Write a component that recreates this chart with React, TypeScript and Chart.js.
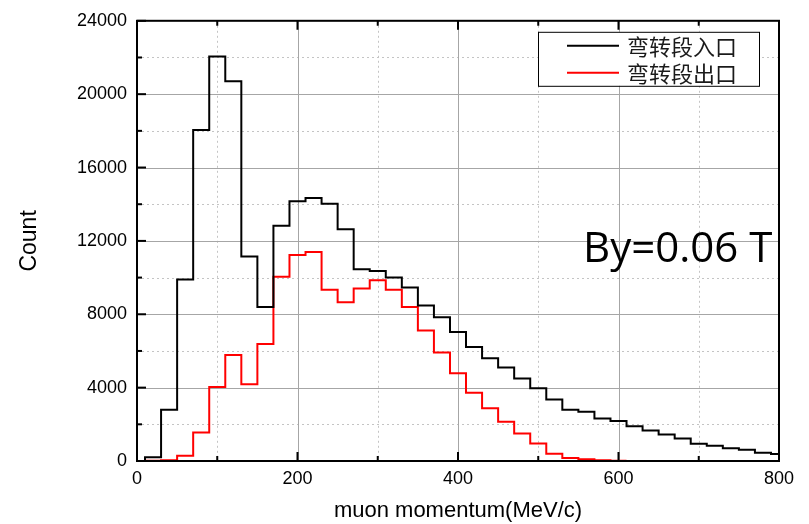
import { useEffect, useRef } from "react";
import { Chart, registerables } from "chart.js";

Chart.register(...registerables);

// Momentum bin edges (MeV/c); bin i spans binEdges[i]..binEdges[i+1]
const binEdges = [
  10, 30, 50, 70, 90, 110, 130, 150, 170, 190,
  210, 230, 250, 270, 290, 310, 330, 350, 370, 390,
  410, 430, 450, 470, 490, 510, 530, 550, 570, 590,
  610, 630, 650, 670, 690, 710, 730, 750, 770, 790, 810,
];

// Counts at the bend-section entrance
const entranceCounts = [
  200, 2800, 9900, 18050, 22050, 20700, 11150, 8400, 12830, 14160,
  14340, 14020, 12630, 10450, 10360, 10000, 9460, 8480, 7840, 7030,
  6220, 5600, 5100, 4500, 3960, 3350, 2790, 2680, 2320, 2180,
  1890, 1660, 1440, 1230, 940, 830, 690, 610, 450, 380,
];

// Counts at the bend-section exit
const exitCounts = [
  10, 40, 280, 1550, 4030, 5780, 4180, 6380, 10050, 11230,
  11400, 9340, 8650, 9400, 9850, 9340, 8390, 7110, 5920, 4780,
  3720, 2880, 2140, 1500, 960, 390, 160, 90, 40, 20,
];

const seriesLabels = ["弯转段入口", "弯转段出口"];
const seriesColors = ["#000000", "#ff0000"];
const fieldNote = "By=0.06 T";
const xTitle = "muon momentum(MeV/c)";
const yTitle = "Count";

const SANS = "'Liberation Sans', Arial, sans-serif";

// Histogram outline: each bin value is held from its lower edge to its upper edge
function stepPoints(counts: number[]) {
  const pts = [{ x: binEdges[0], y: 0 }];
  counts.forEach((c, i) => pts.push({ x: binEdges[i], y: c }));
  pts.push({ x: binEdges[counts.length], y: counts[counts.length - 1] });
  return pts;
}

// Grid (solid major, dotted minor), inward ticks, frame, legend and field note
const decorations = {
  id: "decorations",
  beforeDatasetsDraw(chart: any) {
    const { ctx, chartArea: a, scales } = chart;
    const xs = scales.x;
    const ys = scales.y;
    const xv: number[] = xs.ticks.map((t: any) => t.value);
    const yv: number[] = ys.ticks.map((t: any) => t.value);
    ctx.save();
    // minor dotted grid
    ctx.strokeStyle = "#c4c4c4";
    ctx.lineWidth = 1;
    ctx.setLineDash([2, 3]);
    for (let i = 0; i + 1 < xv.length; i++) {
      const px = Math.round(xs.getPixelForValue((xv[i] + xv[i + 1]) / 2)) + 0.5;
      ctx.beginPath();
      ctx.moveTo(px, a.top);
      ctx.lineTo(px, a.bottom);
      ctx.stroke();
    }
    for (let i = 0; i + 1 < yv.length; i++) {
      const py = Math.round(ys.getPixelForValue((yv[i] + yv[i + 1]) / 2)) + 0.5;
      ctx.beginPath();
      ctx.moveTo(a.left, py);
      ctx.lineTo(a.right, py);
      ctx.stroke();
    }
    // major solid grid
    ctx.setLineDash([]);
    ctx.strokeStyle = "#a6a6a6";
    xv.slice(1, -1).forEach((v) => {
      const px = Math.round(xs.getPixelForValue(v)) + 0.5;
      ctx.beginPath();
      ctx.moveTo(px, a.top);
      ctx.lineTo(px, a.bottom);
      ctx.stroke();
    });
    yv.slice(1, -1).forEach((v) => {
      const py = Math.round(ys.getPixelForValue(v)) + 0.5;
      ctx.beginPath();
      ctx.moveTo(a.left, py);
      ctx.lineTo(a.right, py);
      ctx.stroke();
    });
    ctx.restore();
  },
  afterDatasetsDraw(chart: any) {
    const { ctx, chartArea: a, scales } = chart;
    const xs = scales.x;
    const ys = scales.y;
    const xv: number[] = xs.ticks.map((t: any) => t.value);
    const yv: number[] = ys.ticks.map((t: any) => t.value);
    ctx.save();
    ctx.strokeStyle = "#000";
    ctx.lineWidth = 2;
    const major = 9;
    const minor = 5;
    const xMarks: [number, number][] = [];
    xv.forEach((v, i) => {
      xMarks.push([v, major]);
      if (i + 1 < xv.length) xMarks.push([(v + xv[i + 1]) / 2, minor]);
    });
    xMarks.forEach(([v, len]) => {
      const px = xs.getPixelForValue(v);
      ctx.beginPath();
      ctx.moveTo(px, a.bottom);
      ctx.lineTo(px, a.bottom - len);
      ctx.moveTo(px, a.top);
      ctx.lineTo(px, a.top + len);
      ctx.stroke();
    });
    const yMarks: [number, number][] = [];
    yv.forEach((v, i) => {
      yMarks.push([v, major]);
      if (i + 1 < yv.length) yMarks.push([(v + yv[i + 1]) / 2, minor]);
    });
    yMarks.forEach(([v, len]) => {
      const py = ys.getPixelForValue(v);
      ctx.beginPath();
      ctx.moveTo(a.left, py);
      ctx.lineTo(a.left + len, py);
      ctx.stroke();
    });
    ctx.strokeRect(a.left, a.top, a.right - a.left, a.bottom - a.top);
    ctx.restore();
  },
  afterDraw(chart: any) {
    const { ctx, chartArea: a } = chart;
    ctx.save();
    // legend box in the upper right of the plot
    const bx = a.right - 241;
    const by = a.top + 11;
    const bw = 221;
    const bh = 54;
    ctx.fillStyle = "#fff";
    ctx.fillRect(bx, by, bw, bh);
    ctx.strokeStyle = "#000";
    ctx.lineWidth = 1;
    ctx.strokeRect(bx + 0.5, by + 0.5, bw, bh);
    chart.data.datasets.forEach((ds: any, i: number) => {
      const ly = by + 14 + i * 27;
      ctx.strokeStyle = ds.borderColor;
      ctx.lineWidth = 2;
      ctx.beginPath();
      ctx.moveTo(bx + 29, ly);
      ctx.lineTo(bx + 81, ly);
      ctx.stroke();
      ctx.fillStyle = "#1a1a1a";
      ctx.font = "22px 'Noto Sans CJK SC'";
      ctx.textAlign = "left";
      ctx.textBaseline = "middle";
      ctx.fillText(ds.label, bx + 89, ly + 1);
    });
    // field strength note
    ctx.fillStyle = "#000";
    ctx.font = "42px 'Open Sans'";
    ctx.textAlign = "left";
    ctx.textBaseline = "alphabetic";
    ctx.fillText(fieldNote, 583, 262);
    ctx.restore();
  },
};

export default function App() {
  const canvasRef = useRef<HTMLCanvasElement | null>(null);

  useEffect(() => {
    const canvas = canvasRef.current;
    if (!canvas) return;
    const chart = new Chart(canvas, {
      type: "line",
      data: {
        datasets: [
          {
            label: seriesLabels[0],
            data: stepPoints(entranceCounts),
            borderColor: seriesColors[0],
            borderWidth: 2,
            stepped: "before",
            pointRadius: 0,
            fill: false,
          },
          {
            label: seriesLabels[1],
            data: stepPoints(exitCounts),
            borderColor: seriesColors[1],
            borderWidth: 2,
            stepped: "before",
            pointRadius: 0,
            fill: false,
          },
        ],
      },
      options: {
        animation: false,
        responsive: false,
        layout: { padding: { left: 0, top: 18, right: 30, bottom: 0 } },
        plugins: {
          legend: { display: false },
          tooltip: { enabled: false },
        },
        scales: {
          x: {
            type: "linear",
            min: 0,
            max: 800,
            ticks: {
              stepSize: 200,
              padding: 7,
              color: "#000",
              font: { family: SANS, size: 18 },
              maxRotation: 0,
              callback: (v: any) => String(v),
            },
            grid: { display: false, drawTicks: false },
            border: { display: false },
            title: {
              display: true,
              text: xTitle,
              color: "#000",
              font: { family: SANS, size: 22 },
              padding: { top: 0, bottom: 0 },
            },
            afterFit: (s: any) => {
              s.height = 63;
            },
          },
          y: {
            type: "linear",
            min: 0,
            max: 24000,
            ticks: {
              stepSize: 4000,
              padding: 10,
              color: "#000",
              font: { family: SANS, size: 18 },
              callback: (v: any) => String(v),
            },
            grid: { display: false, drawTicks: false },
            border: { display: false },
            title: {
              display: true,
              text: yTitle,
              color: "#000",
              font: { family: SANS, size: 23 },
              padding: { top: 16, bottom: 0 },
            },
            afterFit: (s: any) => {
              s.width = 137;
            },
          },
        },
      },
      plugins: [decorations],
    });
    return () => chart.destroy();
  }, []);

  return (
    <div style={{ position: "fixed", left: 0, top: 0, width: 809, height: 524, background: "#fff" }}>
      <canvas ref={canvasRef} width={809} height={524} style={{ display: "block" }} />
    </div>
  );
}
